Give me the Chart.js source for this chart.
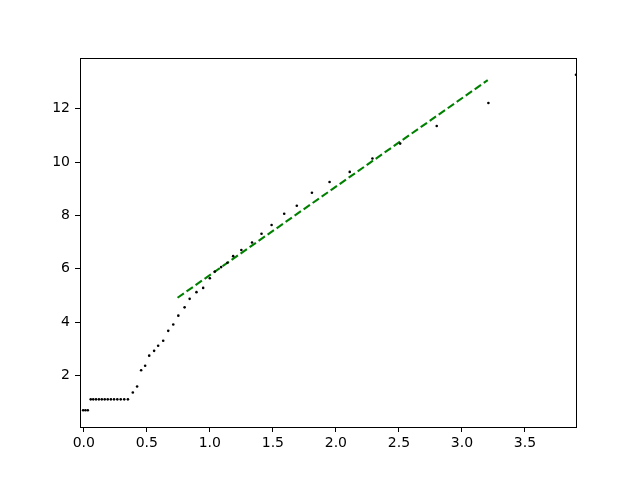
<!DOCTYPE html>
<html>
<head>
<meta charset="utf-8">
<script src="https://cdn.jsdelivr.net/npm/chart.js@4.4.1/dist/chart.umd.min.js"></script>
<style>
  html, body { margin: 0; padding: 0; background: #fff; }
  canvas { display: block; }
</style>
</head>
<body>
<canvas id="chart" width="640" height="480"></canvas>
<script>
'use strict';

// scattered points
const pointsX = [
  -0.005, 0.013, 0.032,
  0.055, 0.075, 0.097, 0.12, 0.143, 0.166, 0.19, 0.215, 0.24, 0.266, 0.293, 0.321, 0.35,
  0.389, 0.423, 0.455, 0.487, 0.519, 0.558, 0.59, 0.63, 0.67, 0.71, 0.75, 0.80, 0.84, 0.894, 0.947, 1.0,
  1.04, 1.09, 1.14,
  1.185, 1.25, 1.335, 1.41, 1.49, 1.59, 1.69, 1.81, 1.95, 2.11, 2.29, 2.51, 2.80, 3.21, 3.905,
];
const pointsY = [
  0.69, 0.69, 0.69,
  1.10, 1.10, 1.10, 1.10, 1.10, 1.10, 1.10, 1.10, 1.10, 1.10, 1.10, 1.10, 1.10,
  1.36, 1.58, 2.19, 2.36, 2.74, 2.92, 3.11, 3.30, 3.67, 3.91, 4.24, 4.55, 4.87, 5.12, 5.28, 5.64,
  5.89, 6.06, 6.22,
  6.47, 6.70, 6.98, 7.31, 7.64, 8.06, 8.36, 8.85, 9.25, 9.63, 10.13, 10.69, 11.35, 12.21, 13.27,
];

// fitted dashed line end points
const fitX = [0.744, 3.205];
const fitY = [4.91, 13.07];

const xTicks = [0, 0.5, 1.0, 1.5, 2.0, 2.5, 3.0, 3.5];
const yTicks = [2, 4, 6, 8, 10, 12];

const FONT = { family: 'DejaVu Sans', size: 14 };

const frame = {
  id: 'frame',
  afterDraw(chart) {
    const { ctx, chartArea: a } = chart;
    ctx.save();
    ctx.strokeStyle = '#000';
    ctx.lineWidth = 1;
    ctx.strokeRect(a.left + 0.5, a.top + 0.5, a.right - a.left, a.bottom - a.top);
    ctx.restore();
  },
};

function toPoints(xs, ys) {
  return xs.map((x, i) => ({ x, y: ys[i] }));
}

new Chart(document.getElementById('chart'), {
  type: 'scatter',
  data: {
    datasets: [
      {
        data: toPoints(pointsX, pointsY),
        backgroundColor: '#000',
        borderColor: '#000',
        pointRadius: 1.3,
        borderWidth: 0,
      },
      {
        type: 'line',
        data: toPoints(fitX, fitY),
        borderColor: '#008000',
        borderWidth: 2.1,
        borderDash: [7.7, 3.3],
        pointRadius: 0,
        fill: false,
      },
    ],
  },
  options: {
    responsive: false,
    animation: false,
    layout: { padding: { left: 0, top: 58, right: 64, bottom: 0 } },
    plugins: {
      legend: { display: false },
      tooltip: { enabled: false },
    },
    scales: {
      x: {
        type: 'linear',
        min: -0.03,
        max: 3.905,
        afterBuildTicks: (scale) => { scale.ticks = xTicks.map((v) => ({ value: v })); },
        afterFit: (scale) => { scale.height = 53; },
        grid: { display: true, drawOnChartArea: false, drawTicks: true, tickLength: 5, color: '#000' },
        border: { display: true, color: '#000' },
        ticks: {
          color: '#000',
          font: FONT,
          padding: 3,
          maxRotation: 0,
          callback: (v) => Number(v).toFixed(1),
        },
      },
      y: {
        type: 'linear',
        min: 0.064,
        max: 13.9,
        afterBuildTicks: (scale) => { scale.ticks = yTicks.map((v) => ({ value: v })); },
        afterFit: (scale) => { scale.width = 80; },
        grid: { display: true, drawOnChartArea: false, drawTicks: true, tickLength: 5, color: '#000' },
        border: { display: true, color: '#000' },
        ticks: {
          color: '#000',
          font: FONT,
          padding: 5,
          callback: (v) => String(v),
        },
      },
    },
  },
  plugins: [frame],
});
</script>
</body>
</html>
